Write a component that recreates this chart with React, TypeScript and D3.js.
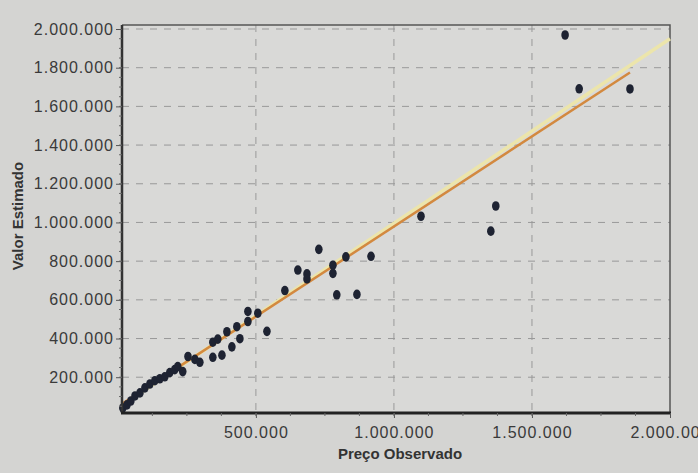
import React, { useEffect, useRef } from "react";
import * as d3 from "d3";

const precoObservado = [
  18000, 33000, 47000, 62000, 80000, 98000, 116000, 134000, 152000, 170000,
  188000, 206000, 217000, 235000, 254000, 279000, 297000, 344000, 362000,
  344000, 377000, 395000, 413000, 431000, 442000, 471000, 471000, 507000,
  540000, 605000, 652000, 685000, 685000, 728000, 779000, 779000, 826000,
  793000, 866000, 917000, 1098000, 1351000, 1369000, 1620000, 1671000, 1855000,
];
const valorEstimado = [
  41000, 57000, 77000, 103000, 119000, 145000, 165000, 182000, 192000, 202000,
  224000, 239000, 255000, 229000, 307000, 292000, 277000, 381000, 397000,
  303000, 314000, 435000, 357000, 461000, 399000, 540000, 488000, 531000,
  437000, 648000, 754000, 734000, 708000, 861000, 779000, 737000, 822000,
  626000, 628000, 825000, 1032000, 955000, 1085000, 1969000, 1691000, 1690000,
];

// fitted line and reference line end points
const ajusteX = [15000, 1855000];
const ajusteY = [62000, 1775000];
const referenciaX = [15000, 2000000];
const referenciaY = [55000, 1950000];

const yTicks = [200000, 400000, 600000, 800000, 1000000, 1200000, 1400000, 1600000, 1800000, 2000000];
const xTicks = [500000, 1000000, 1500000, 2000000];

const fmt = (v: number) => d3.format(",")(v).replace(/,/g, ".");

const App = () => {
  const chartRef = useRef<HTMLDivElement>(null);

  useEffect(() => {
    const element = chartRef.current;
    if (!element) return;
    const width = 698;
    const height = 473;
    const m = { left: 122, right: 670, top: 29, bottom: 413 };

    d3.select(element).select("svg").remove();
    const svg = d3
      .select(element)
      .append("svg")
      .attr("width", width)
      .attr("height", height)
      .style("position", "absolute")
      .style("left", 0)
      .style("top", 0)
      .style("font-family", "'Liberation Sans', Arial, sans-serif");

    svg.append("rect").attr("width", width).attr("height", height).attr("fill", "#d4d4d2");

    const x = d3.scaleLinear().domain([15000, 2000000]).range([m.left, m.right]);
    const y = d3.scaleLinear().domain([15000, 2000000]).range([m.bottom, m.top]);

    svg
      .append("rect")
      .attr("x", m.left)
      .attr("y", m.top - 4)
      .attr("width", m.right - m.left)
      .attr("height", m.bottom - m.top + 4)
      .attr("fill", "#d9d9d7");

    // grid
    const grid = svg.append("g").attr("stroke", "#999").attr("stroke-width", 1).attr("stroke-dasharray", "7,7");
    grid
      .selectAll("line.h")
      .data(yTicks)
      .enter()
      .append("line")
      .attr("x1", m.left)
      .attr("x2", m.right)
      .attr("y1", (d) => y(d))
      .attr("y2", (d) => y(d));
    grid
      .selectAll("line.v")
      .data(xTicks.slice(0, 3))
      .enter()
      .append("line")
      .attr("y1", m.top - 4)
      .attr("y2", m.bottom)
      .attr("x1", (d) => x(d))
      .attr("x2", (d) => x(d));

    // frame
    svg
      .append("path")
      .attr("d", `M${m.left},${m.top - 4}H${m.right}V${m.bottom}`)
      .attr("fill", "none")
      .attr("stroke", "#555")
      .attr("stroke-width", 1.5);

    // lines
    const line = d3
      .line<number[]>()
      .x((d) => x(d[0]))
      .y((d) => y(d[1]));
    svg
      .append("path")
      .attr("d", line(d3.zip(referenciaX, referenciaY)))
      .attr("stroke", "#ece5ab")
      .attr("stroke-width", 3.5)
      .attr("fill", "none");
    svg
      .append("path")
      .attr("d", line(d3.zip(ajusteX, ajusteY)))
      .attr("stroke", "#d3893f")
      .attr("stroke-width", 2.5)
      .attr("fill", "none");

    // points
    svg
      .append("g")
      .selectAll("ellipse")
      .data(precoObservado)
      .enter()
      .append("ellipse")
      .attr("cx", (d) => x(d))
      .attr("cy", (d, i) => y(valorEstimado[i]))
      .attr("rx", 3.8)
      .attr("ry", 4.8)
      .attr("fill", "#1e2332");

    // axes
    svg
      .append("line")
      .attr("x1", m.left)
      .attr("x2", m.left)
      .attr("y1", m.top - 4)
      .attr("y2", m.bottom)
      .attr("stroke", "#333")
      .attr("stroke-width", 2.5);
    svg
      .append("line")
      .attr("x1", m.left - 1)
      .attr("x2", m.right + 1)
      .attr("y1", m.bottom)
      .attr("y2", m.bottom)
      .attr("stroke", "#222")
      .attr("stroke-width", 3);

    const yAxis = svg
      .append("g")
      .attr("transform", `translate(${m.left},0)`)
      .call(d3.axisLeft(y).tickValues(yTicks).tickSize(6).tickPadding(2).tickFormat((d) => fmt(+d)));
    yAxis.select(".domain").remove();
    const xAxis = svg
      .append("g")
      .attr("transform", `translate(0,${m.bottom})`)
      .call(d3.axisBottom(x).tickValues(xTicks).tickSize(5).tickPadding(9).tickFormat((d) => fmt(+d)));
    xAxis.select(".domain").remove();
    [yAxis, xAxis].forEach((g) => {
      g.selectAll("text")
        .style("font-size", "16px")
        .style("letter-spacing", "1px")
        .style("font-family", "'Liberation Sans', Arial, sans-serif")
        .attr("fill", "#3a3a3a");
      g.selectAll("line").attr("stroke", "#555");
    });

    // minor ticks
    svg
      .append("g")
      .selectAll("line")
      .data(d3.range(125000, 2000000, 125000))
      .enter()
      .append("line")
      .attr("x1", (d) => x(d))
      .attr("x2", (d) => x(d))
      .attr("y1", m.bottom)
      .attr("y2", m.bottom + 3)
      .attr("stroke", "#666");
    svg
      .append("g")
      .selectAll("line")
      .data(d3.range(50000, 2000000, 50000))
      .enter()
      .append("line")
      .attr("x1", m.left - 3)
      .attr("x2", m.left)
      .attr("y1", (d) => y(d))
      .attr("y2", (d) => y(d))
      .attr("stroke", "#666");

    // titles
    svg
      .append("text")
      .attr("transform", `translate(23,216) rotate(-90)`)
      .attr("text-anchor", "middle")
      .style("font-size", "15px")
      .style("font-weight", "bold")
      .attr("fill", "#333")
      .text("Valor Estimado");
    svg
      .append("text")
      .attr("x", 400)
      .attr("y", 459)
      .attr("text-anchor", "middle")
      .style("font-size", "15px")
      .style("font-weight", "bold")
      .attr("fill", "#333")
      .text("Preço Observado");
  }, []);

  return <div ref={chartRef}></div>;
};

export default App;
